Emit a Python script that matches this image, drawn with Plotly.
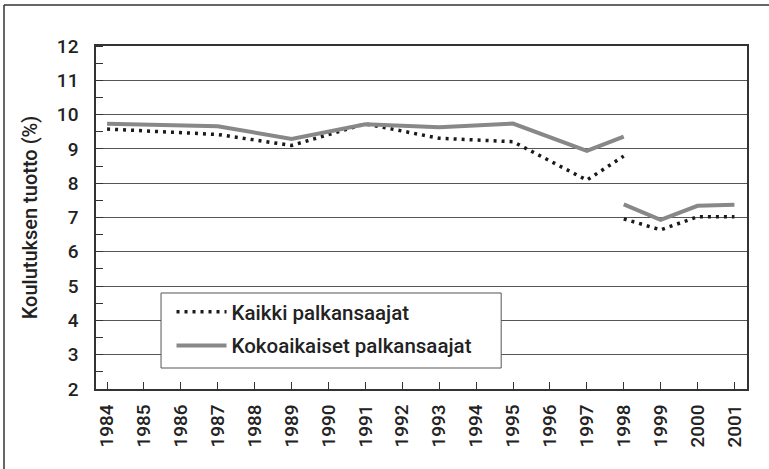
import plotly.graph_objects as go

years = list(range(1984, 2002))
year_labels = [str(y) for y in years]

# Kaikki palkansaajat (dotted) – two segments separated by a break in 1998
kaikki_x = [1984, 1987, 1989, 1991, 1993, 1995, 1997, 1998, None, 1998, 1999, 2000, 2001]
kaikki_y = [9.58, 9.42, 9.10, 9.73, 9.31, 9.21, 8.09, 8.79, None, 6.96, 6.64, 7.02, 7.02]

# Kokoaikaiset palkansaajat (grey solid)
koko_x = [1984, 1987, 1989, 1991, 1993, 1995, 1997, 1998, None, 1998, 1999, 2000, 2001]
koko_y = [9.73, 9.66, 9.29, 9.72, 9.63, 9.74, 8.94, 9.36, None, 7.38, 6.93, 7.34, 7.37]

y_ticks = list(range(2, 13))

FONT = "Roboto, Liberation Sans, Arial, sans-serif"
DARK = "#222222"
W = 500

fig = go.Figure()
fig.add_trace(go.Scatter(
    x=kaikki_x, y=kaikki_y, mode="lines", name="Kaikki palkansaajat",
    line=dict(color="#1a1a1a", width=3.5, dash="3px,5px"),
    connectgaps=False, legendgroup="a",
))
fig.add_trace(go.Scatter(
    x=koko_x, y=koko_y, mode="lines", name="Kokoaikaiset palkansaajat",
    line=dict(color="#888888", width=4),
    connectgaps=False, legendgroup="b",
))

fig.update_layout(
    width=769, height=469,
    margin=dict(l=96, r=22, t=46, b=80),
    paper_bgcolor="white", plot_bgcolor="white",
    font=dict(family=FONT, size=19, color=DARK, weight=W),
    showlegend=True,
    legend=dict(
        x=0.116, y=0.283, xanchor="left", yanchor="top",
        bgcolor="rgba(0,0,0,0)", borderwidth=0,
        font=dict(family=FONT, size=20.5, color=DARK, weight=W),
        tracegroupgap=4, itemwidth=50,
    ),
    xaxis=dict(
        range=[1983.7, 2001.34],
        tickvals=years, ticktext=year_labels, tickangle=-90,
        ticks="inside", ticklen=7, tickcolor="#333333", tickwidth=1,
        showgrid=False, showline=True, linecolor="#333333", linewidth=1.5,
        mirror=True, zeroline=False,
        tickfont=dict(family=FONT, size=19, color=DARK, weight=W),
        ticklabelstandoff=6,
    ),
    yaxis=dict(
        range=[2, 12], tickvals=y_ticks,
        ticks="", showgrid=True, gridcolor="#555555", gridwidth=1,
        showline=True, linecolor="#333333", linewidth=1.5, mirror=True,
        zeroline=False,
        minor=dict(dtick=0.5, ticks="inside", ticklen=7, tickcolor="#333333", showgrid=False),
        tickfont=dict(family=FONT, size=19, color=DARK, weight=W),
        title=dict(text="Koulutuksen tuotto (%)", font=dict(family=FONT, size=20, color=DARK, weight=W), standoff=14),
        ticklabelstandoff=12,
    ),
)

# legend frame box
fig.add_shape(type="rect", xref="paper", yref="paper", x0=0.0999, x1=0.6224, y0=0.0612, y1=0.2799,
              fillcolor="white", line=dict(color="#555555", width=1), layer="above")

# outer frame lines (left and top) of the figure box
x_left = (4 - 96) / 651.0
y_top = (389 - 5) / 343.0
fig.add_shape(type="line", xref="paper", yref="paper", x0=x_left, x1=x_left, y0=-0.25, y1=y_top,
              line=dict(color="#333333", width=1.5))
fig.add_shape(type="line", xref="paper", yref="paper", x0=x_left, x1=1.1, y0=y_top, y1=y_top,
              line=dict(color="#333333", width=1.5))

fig.write_html("out.html", config={"displayModeBar": False},
               post_script="document.body.style.margin='0';")
